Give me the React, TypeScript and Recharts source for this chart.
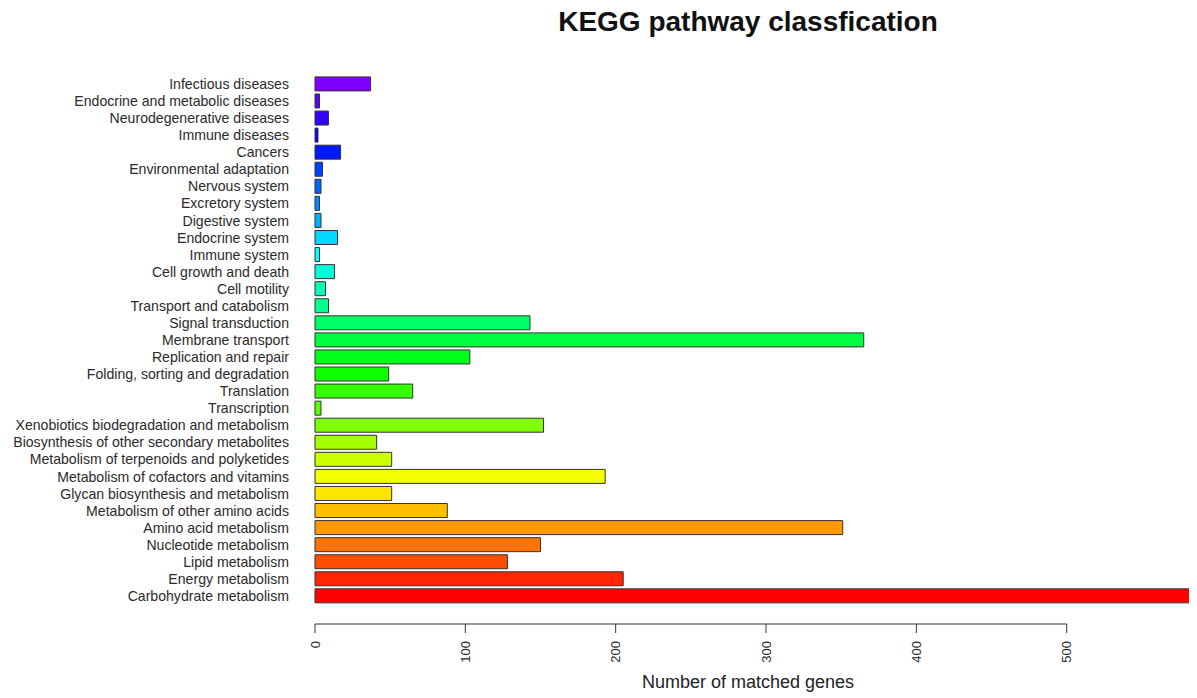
import React from "react";
import { BarChart, Bar, XAxis, YAxis, Cell } from "recharts";

// pathways, top to bottom as drawn
const pathways = [
  "Infectious diseases",
  "Endocrine and metabolic diseases",
  "Neurodegenerative diseases",
  "Immune diseases",
  "Cancers",
  "Environmental adaptation",
  "Nervous system",
  "Excretory system",
  "Digestive system",
  "Endocrine system",
  "Immune system",
  "Cell growth and death",
  "Cell motility",
  "Transport and catabolism",
  "Signal transduction",
  "Membrane transport",
  "Replication and repair",
  "Folding, sorting and degradation",
  "Translation",
  "Transcription",
  "Xenobiotics biodegradation and metabolism",
  "Biosynthesis of other secondary metabolites",
  "Metabolism of terpenoids and polyketides",
  "Metabolism of cofactors and vitamins",
  "Glycan biosynthesis and metabolism",
  "Metabolism of other amino acids",
  "Amino acid metabolism",
  "Nucleotide metabolism",
  "Lipid metabolism",
  "Energy metabolism",
  "Carbohydrate metabolism",
];

const geneCounts = [
  37, 3, 9, 2, 17, 5, 4, 3, 4, 15, 3, 13, 7, 9, 143, 365, 103, 49, 65, 4,
  152, 41, 51, 193, 51, 88, 351, 150, 128, 205, 584,
];

const xTicks = [0, 100, 200, 300, 400, 500];

const FONT = "'Liberation Sans', Arial, Helvetica, sans-serif";
const CHART_W = 1189;
const CHART_H = 690;
const MARGIN = { top: 67.5, right: 1, bottom: 3.5, left: 0 };
const Y_AXIS_W = 307;
const X_AXIS_H = 90;
const X_MAX = 586;
const PX_PER_UNIT = (CHART_W - MARGIN.left - MARGIN.right - Y_AXIS_W) / X_MAX;

const data = pathways.map((name, i) => ({ name, value: geneCounts[i] }));

// rainbow from red (bottom) to violet (top)
const barColor = (i: number) => {
  const n = pathways.length;
  const hue = ((n - 1 - i) * 0.75) / (n - 1);
  return `hsl(${hue * 360}, 100%, 50%)`;
};

function YTick(props: any) {
  const { x, y, payload } = props;
  return (
    <text
      x={x - 26}
      y={y}
      textAnchor="end"
      dominantBaseline="central"
      fontSize={14.1}
      fontFamily={FONT}
      fill="#2a2a2a"
    >
      {payload.value}
    </text>
  );
}

function XTick(props: any) {
  const { x, y, payload, index } = props;
  const lineY = y + 19.5;
  const last = xTicks[xTicks.length - 1];
  return (
    <g>
      {index === 0 && (
        <line
          x1={x}
          x2={x + last * PX_PER_UNIT}
          y1={lineY}
          y2={lineY}
          stroke="#333"
          strokeWidth={1}
        />
      )}
      <line x1={x} x2={x} y1={lineY} y2={lineY + 9} stroke="#333" strokeWidth={1} />
      <text
        transform={`translate(${x}, ${lineY + 17}) rotate(-90)`}
        textAnchor="end"
        dominantBaseline="central"
        fontSize={13}
        fontFamily={FONT}
        fill="#2a2a2a"
      >
        {payload.value}
      </text>
    </g>
  );
}

export default function App() {
  return (
    <div style={{ position: "relative", width: CHART_W, height: CHART_H }}>
      <div
        style={{
          position: "absolute",
          left: 440,
          width: 600,
          top: 0,
          textAlign: "center",
          fontFamily: FONT,
          fontWeight: "bold",
          fontSize: 28,
          lineHeight: "28px",
          color: "#111",
        }}
      >
        KEGG pathway classfication
      </div>
      <BarChart
        width={CHART_W}
        height={CHART_H}
        data={data}
        layout="vertical"
        margin={MARGIN}
        barCategoryGap="8.3%"
        style={{ overflow: "visible" }}
      >
        <XAxis
          type="number"
          domain={[0, X_MAX]}
          ticks={xTicks}
          height={X_AXIS_H}
          axisLine={false}
          tickLine={false}
          tickSize={0}
          tickMargin={0}
          tick={<XTick />}
          interval={0}
        />
        <YAxis
          type="category"
          dataKey="name"
          width={Y_AXIS_W}
          axisLine={false}
          tickLine={false}
          tickSize={0}
          tickMargin={0}
          tick={<YTick />}
          interval={0}
        />
        <Bar dataKey="value" isAnimationActive={false} stroke="#333" strokeWidth={1}>
          {data.map((d, i) => (
            <Cell key={d.name} fill={barColor(i)} />
          ))}
        </Bar>
      </BarChart>
      <div
        style={{
          position: "absolute",
          left: 440,
          width: 600,
          top: 665,
          textAlign: "center",
          fontFamily: FONT,
          fontSize: 18,
          lineHeight: "18px",
          color: "#222",
        }}
      >
        Number of matched genes
      </div>
    </div>
  );
}
